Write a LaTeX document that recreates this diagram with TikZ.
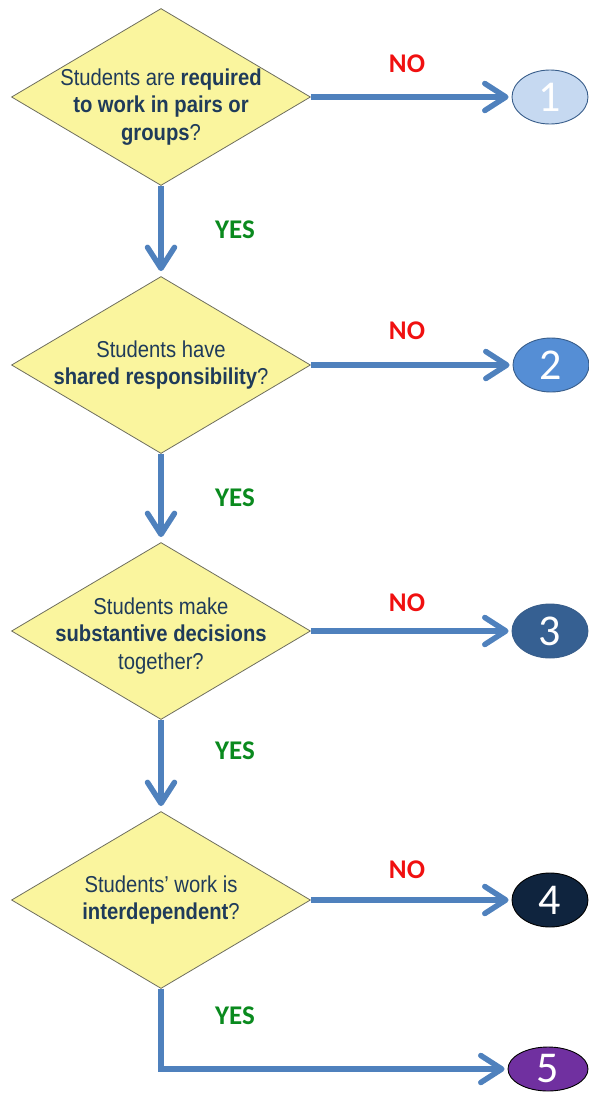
\documentclass[tikz,border=0pt]{standalone}
\usepackage{fontspec}
\usetikzlibrary{shapes.geometric,arrows.meta}
\newfontfamily\qfamily[FakeStretch=0.88]{Liberation Sans}
\newfontfamily\cfamily{Carlito}
\definecolor{dfill}{HTML}{FAF59E}
\definecolor{dborder}{HTML}{6E6E5E}
\definecolor{qcol}{HTML}{1F3B5A}
\definecolor{acol}{HTML}{4F81BD}
\definecolor{nocol}{HTML}{F01010}
\definecolor{yescol}{HTML}{0A8A1E}
\definecolor{eborder}{HTML}{385D8A}
\definecolor{eone}{HTML}{C6D9F1}
\definecolor{etwo}{HTML}{558ED5}
\definecolor{ethree}{HTML}{366092}
\definecolor{efour}{HTML}{0F243E}
\definecolor{efive}{HTML}{7030A0}
\begin{document}
\begin{tikzpicture}[x=1pt,y=-1pt,
  dec/.style={diamond, draw=dborder, fill=dfill, line width=0.8pt,
    minimum width=299pt, minimum height=177pt, inner sep=0pt},
  qtext/.style={font=\qfamily\fontsize{23}{27.5}\selectfont, text=qcol, align=center, inner sep=0pt},
  endpt/.style={ellipse, draw=eborder, line width=0.9pt, minimum width=76pt,
    minimum height=54pt, inner sep=0pt, text=white, font=\cfamily\fontsize{44}{44}\selectfont},
  flow/.style={line width=5.5pt, draw=acol, -{Straight Barb[length=21pt,width=27pt,round]}},
  nolab/.style={font=\cfamily\bfseries\fontsize{27}{27}\selectfont, text=nocol},
  yeslab/.style={font=\cfamily\bfseries\fontsize{27}{27}\selectfont, text=yescol}
]
\useasboundingbox (0,0) rectangle (589,1093);

\node[dec] (d1) at (161,97) {};
\node[dec] (d2) at (161,365) {};
\node[dec] (d3) at (161,631) {};
\node[dec] (d4) at (161,900) {};

\node[qtext] (t1) at (161,107) {Students are \textbf{required}\\\textbf{to work in pairs or}\\\textbf{groups}?};
\node[qtext] (t2) at (161,365) {Students have\\\textbf{shared responsibility}?};
\node[qtext] (t3) at (161,636) {Students make\\\textbf{substantive decisions}\\together?};
\node[qtext] (t4) at (161,900) {Students’ work is\\\textbf{interdependent}?};

\node[endpt, fill=eone] (e1) at (550,97) {1};
\node[endpt, fill=etwo] (e2) at (551,365) {2};
\node[endpt, fill=ethree] (e3) at (550,631) {3};
\node[endpt, fill=efour, draw=black] (e4) at (550,900) {4};
\node[endpt, fill=efive, draw=black, minimum width=80pt, minimum height=44pt] (e5) at (548,1069) {5};

\draw[flow, shorten >=3pt] (d1.east) -- (e1.west);
\draw[flow, shorten >=3pt] (d2.east) -- (e2.west);
\draw[flow, shorten >=3pt] (d3.east) -- (e3.west);
\draw[flow, shorten >=3pt] (d4.east) -- (e4.west);

\draw[flow, shorten >=5pt] (d1.south) -- (d2.north);
\draw[flow, shorten >=5pt] (d2.south) -- (d3.north);
\draw[flow, shorten >=5pt] (d3.south) -- (d4.north);
\draw[flow, shorten >=3pt] (d4.south) |- (e5.west);

\node[nolab] (n1) at (407,64) {NO};
\node[nolab] (n2) at (407,331) {NO};
\node[nolab] (n3) at (407,603) {NO};
\node[nolab] (n4) at (407,870) {NO};

\node[yeslab] (y1) at (235,230) {YES};
\node[yeslab] (y2) at (235,498) {YES};
\node[yeslab] (y3) at (235,751) {YES};
\node[yeslab] (y4) at (235,1016) {YES};
\end{tikzpicture}
\end{document}
